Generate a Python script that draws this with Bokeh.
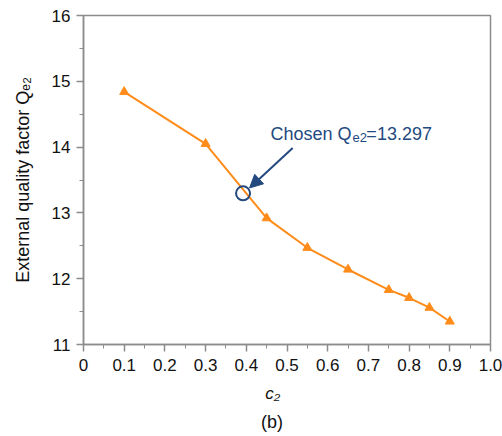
from bokeh.plotting import figure
from bokeh.models import FixedTicker, Label, Arrow, NormalHead, Range1d, Title
from bokeh.embed import file_html
from bokeh.resources import INLINE

# data
c2 = [0.1, 0.3, 0.45, 0.55, 0.65, 0.75, 0.8, 0.85, 0.9]
qe2 = [14.84, 14.05, 12.92, 12.47, 12.14, 11.83, 11.71, 11.56, 11.35]
chosen_c2 = [0.392]
chosen_q = [13.297]
x_ticks = [0, 0.1, 0.2, 0.3, 0.4, 0.5, 0.6, 0.7, 0.8, 0.9, 1.0]
x_tick_labels = ["0", "0.1", "0.2", "0.3", "0.4", "0.5", "0.6", "0.7", "0.8", "0.9", "1.0"]
x_minor = [0.05, 0.15, 0.25, 0.35, 0.45, 0.55, 0.65, 0.75, 0.85, 0.95]
y_ticks = [11, 12, 13, 14, 15, 16]
y_minor = [11.5, 12.5, 13.5, 14.5, 15.5]

FONT = "Liberation Sans"
ORANGE = "#FF8C1A"
BLUE = "#23497F"
GRAY = "#8C8C8C"
TXT = "#111111"
PAD = "\u00a0" * 6

p = figure(width=502, height=436, output_backend="svg", toolbar_location=None,
           x_range=Range1d(0, 1.0), y_range=Range1d(11, 16),
           min_border_left=83, min_border_right=12, min_border_top=15, min_border_bottom=91)
p.grid.visible = False
p.outline_line_color = GRAY
p.outline_line_width = 1.5
p.background_fill_color = "white"

p.xaxis.ticker = FixedTicker(ticks=x_ticks, minor_ticks=x_minor)
p.yaxis.ticker = FixedTicker(ticks=y_ticks, minor_ticks=y_minor)
p.xaxis.major_label_overrides = {t: l for t, l in zip(x_ticks, x_tick_labels)}
for ax in (p.xaxis, p.yaxis):
    ax.axis_line_color = GRAY
    ax.axis_line_width = 1.5
    ax.major_tick_line_color = GRAY
    ax.minor_tick_line_color = GRAY
    ax.major_tick_line_width = 1.5
    ax.major_tick_out = 7
    ax.major_tick_in = 0
    ax.minor_tick_out = 4
    ax.minor_tick_in = 0
    ax.major_label_text_font = FONT
    ax.major_label_text_font_size = "17px"
    ax.major_label_text_color = TXT
    ax.axis_label_text_font = FONT
    ax.axis_label_text_color = TXT
p.xaxis.major_label_standoff = 7
p.yaxis.major_label_standoff = 6

p.yaxis.axis_label = "External quality factor Q\u2091\u2082"
p.yaxis.axis_label_text_font_size = "18px"
p.yaxis.axis_label_text_font_style = "normal"
p.yaxis.axis_label_standoff = 16

p.xaxis.axis_label = "c\u2082" + PAD
p.xaxis.axis_label_text_font_size = "17px"
p.xaxis.axis_label_text_font_style = "italic"
p.xaxis.axis_label_standoff = 10

p.add_layout(Title(text="(b)" + PAD, align="center", text_font=FONT, text_font_size="18px",
                   text_font_style="normal", text_color=TXT, standoff=9), "below")

p.line(c2, qe2, line_color=ORANGE, line_width=2)
p.scatter(c2, qe2, marker="triangle", size=9, fill_color=ORANGE, line_color=ORANGE)
p.scatter(chosen_c2, chosen_q, marker="circle", size=14, fill_color=None,
          line_color=BLUE, line_width=2)

p.add_layout(Arrow(end=NormalHead(size=13, fill_color=BLUE, line_color=BLUE),
                   x_start=0.514, y_start=13.985, x_end=0.408, y_end=13.38,
                   line_color=BLUE, line_width=2))

# annotation text
p.add_layout(Label(x=0.4595, y=14.197, text="Chosen Q", text_font=FONT,
                   text_font_size="18px", text_color=BLUE, text_baseline="alphabetic"))
p.add_layout(Label(x=0.661, y=14.14, text="e2", text_font=FONT,
                   text_font_size="13px", text_color=BLUE, text_baseline="alphabetic"))
p.add_layout(Label(x=0.695, y=14.197, text="=13.297", text_font=FONT,
                   text_font_size="18px", text_color=BLUE, text_baseline="alphabetic"))

open("out.html", "w").write(file_html(p, INLINE))
